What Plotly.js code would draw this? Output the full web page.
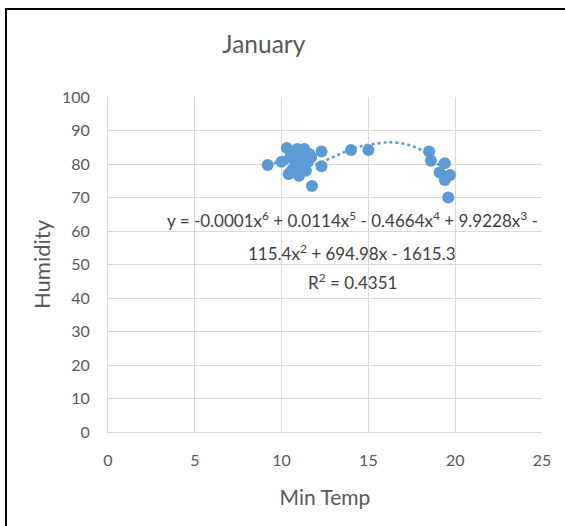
<!DOCTYPE html>
<html>
<head>
<meta charset="utf-8">
<script src="https://cdn.plot.ly/plotly-3.0.1.min.js"></script>
<style>
  html, body { margin: 0; padding: 0; background: #fff; }
  #wrap { position: relative; width: 565px; height: 526px; overflow: hidden; }
  #chart { width: 565px; height: 526px; }
  #frame { position: absolute; left: 5px; top: 8px; width: 620px; height: 600px;
           border-left: 2px solid #000; border-top: 2px solid #000; pointer-events: none; }
</style>
</head>
<body>
<div id="wrap"><div id="chart"></div><div id="frame"></div></div>
<script>
// Observed points: minimum temperature vs humidity (January)
const minTemp = [9.2, 10.0, 10.3, 10.4, 10.5, 10.6, 10.7, 10.8, 10.9, 11.0, 11.0, 11.1, 11.2, 11.3, 11.4, 11.5, 11.6, 11.7, 11.75, 12.3, 12.3, 14.0, 15.0, 18.5, 18.6, 19.1, 19.4, 19.4, 19.5, 19.7, 19.6];
const humidity = [79.7, 80.7, 84.8, 77.0, 82.0, 78.2, 83.5, 80.0, 84.5, 76.5, 81.5, 79.0, 82.5, 84.5, 78.0, 80.5, 83.0, 82.0, 73.4, 83.7, 79.3, 84.2, 84.2, 83.7, 81.0, 77.5, 80.2, 75.2, 76.1, 76.7, 70.0];

// Poly (order 6) trendline
const trendX = [9.2, 10.0, 11.0, 12.0, 12.6, 13.1, 13.7, 14.5, 15.6, 16.3, 17.1, 17.7, 18.2, 18.6, 19.0, 19.4, 19.7];
const trendY = [80.0, 80.5, 79.5, 80.0, 81.2, 82.4, 83.7, 85.2, 86.2, 86.5, 86.0, 85.0, 83.7, 82.0, 80.0, 77.5, 75.5];

const eqLines = [
  'y = -0.0001x<sup>6</sup> + 0.0114x<sup>5</sup> - 0.4664x<sup>4</sup> + 9.9228x<sup>3</sup> -',
  '115.4x<sup>2</sup> + 694.98x - 1615.3',
  'R<sup>2</sup> = 0.4351'
];
const eqY = [63.3, 53.7, 44.9];
const eqX = 14.06;

const xTicks = [0, 5, 10, 15, 20, 25];
const yTicks = [0, 10, 20, 30, 40, 50, 60, 70, 80, 90, 100];

const FONT = 'Lato, "Open Sans", sans-serif';
const blue = '#5b9bd5';

const traces = [
  {
    x: trendX, y: trendY, type: 'scatter', mode: 'lines',
    line: { color: blue, width: 2.5, dash: 'dot', shape: 'spline' },
    hoverinfo: 'skip', showlegend: false
  },
  {
    x: minTemp, y: humidity, type: 'scatter', mode: 'markers',
    marker: { color: blue, size: 12 },
    showlegend: false
  }
];

const layout = {
  width: 565, height: 526,
  margin: { l: 108, r: 23, t: 97, b: 94 },
  paper_bgcolor: '#fff', plot_bgcolor: '#fff',
  font: { family: FONT, color: '#595959' },
  title: { text: 'January', font: { family: FONT, size: 24.5, color: '#595959' },
           x: 0.467, xref: 'container', xanchor: 'center', y: 0.915, yref: 'container', yanchor: 'middle' },
  xaxis: {
    range: [0, 25], tickvals: xTicks, ticktext: xTicks.map(String),
    showgrid: true, gridcolor: '#d9d9d9', gridwidth: 1,
    showline: true, linecolor: '#d9d9d9', linewidth: 1, zeroline: false,
    ticks: '', tickfont: { family: FONT, size: 16, color: '#595959' },
    ticklabelstandoff: 14,
    title: { text: 'Min Temp', font: { family: FONT, size: 21, color: '#595959' }, standoff: 22 },
    fixedrange: true
  },
  yaxis: {
    range: [0, 100], tickvals: yTicks, ticktext: yTicks.map(String),
    showgrid: true, gridcolor: '#d9d9d9', gridwidth: 1,
    showline: true, linecolor: '#d9d9d9', linewidth: 1, zeroline: false,
    ticks: '', tickfont: { family: FONT, size: 16, color: '#595959' },
    ticklabelstandoff: 14,
    title: { text: 'Humidity', font: { family: FONT, size: 22, color: '#595959' }, standoff: 5 },
    fixedrange: true
  },
  annotations: eqLines.map((t, i) => ({
    x: eqX, y: eqY[i], xref: 'x', yref: 'y', text: t, showarrow: false,
    xanchor: 'center', yanchor: 'middle',
    font: { family: FONT, size: 17, color: '#404040' }
  }))
};

Plotly.newPlot('chart', traces, layout, { staticPlot: true, displayModeBar: false });
</script>
</body>
</html>
